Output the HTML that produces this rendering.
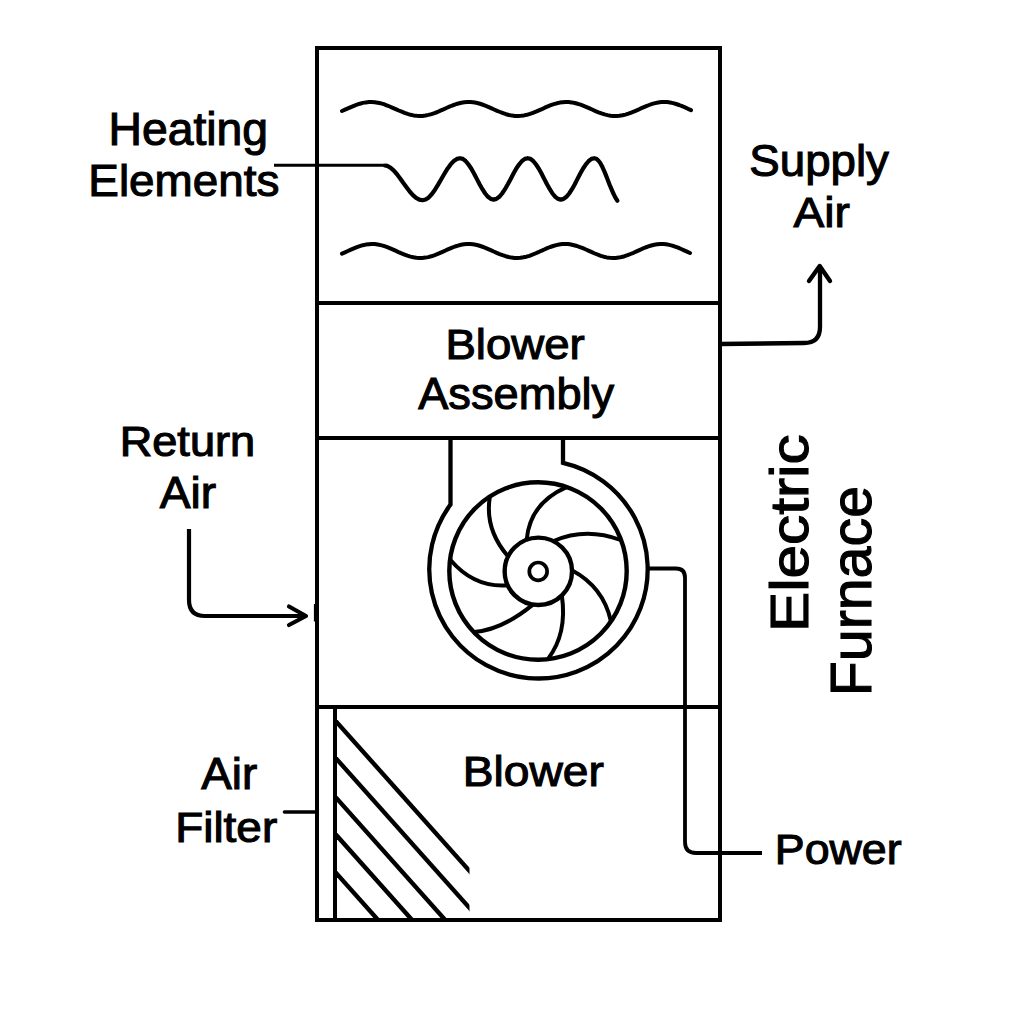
<!DOCTYPE html>
<html><head><meta charset="utf-8"><title>Electric Furnace</title>
<style>
html,body{margin:0;padding:0;background:#fff;}
svg{display:block;}
text{font-family:"Liberation Sans",sans-serif;fill:#000;stroke:#000;stroke-width:1.1;}
</style></head>
<body>
<svg width="1024" height="1024" viewBox="0 0 1024 1024">
<rect x="0" y="0" width="1024" height="1024" fill="#fff"/>
<g fill="none" stroke="#000" stroke-linecap="butt" stroke-linejoin="miter">
<rect x="317" y="48" width="403" height="872" stroke-width="4"/>
<line x1="315" y1="303" x2="722" y2="303" stroke-width="4"/>
<line x1="315" y1="438" x2="722" y2="438" stroke-width="4"/>
<line x1="315" y1="707" x2="722" y2="707" stroke-width="4"/>
<line x1="335" y1="707" x2="335" y2="920" stroke-width="4"/>
</g>
<g fill="none" stroke="#000" stroke-linecap="round" stroke-linejoin="round">
<path d="M342.0,111.0 L345.0,109.7 L348.0,108.4 L350.9,107.1 L353.9,105.8 L356.9,104.7 L359.9,103.7 L362.9,102.9 L365.9,102.4 L368.8,102.1 L371.8,102.0 L374.8,102.2 L377.8,102.7 L380.8,103.3 L383.8,104.2 L386.7,105.3 L389.7,106.5 L392.7,107.8 L395.7,109.1 L398.7,110.5 L401.7,111.7 L404.6,112.9 L407.6,113.9 L410.6,114.8 L413.6,115.4 L416.6,115.8 L419.6,116.0 L422.5,115.9 L425.5,115.5 L428.5,114.9 L431.5,114.1 L434.5,113.1 L437.5,112.0 L440.4,110.7 L443.4,109.4 L446.4,108.0 L449.4,106.7 L452.4,105.5 L455.4,104.4 L458.3,103.5 L461.3,102.8 L464.3,102.3 L467.3,102.0 L470.3,102.0 L473.2,102.3 L476.2,102.8 L479.2,103.5 L482.2,104.5 L485.2,105.6 L488.2,106.8 L491.1,108.1 L494.1,109.5 L497.1,110.8 L500.1,112.0 L503.1,113.2 L506.1,114.2 L509.0,115.0 L512.0,115.6 L515.0,115.9 L518.0,116.0 L521.0,115.8 L524.0,115.4 L526.9,114.8 L529.9,113.9 L532.9,112.9 L535.9,111.7 L538.9,110.4 L541.9,109.1 L544.8,107.7 L547.8,106.4 L550.8,105.2 L553.8,104.2 L556.8,103.3 L559.8,102.6 L562.7,102.2 L565.7,102.0 L568.7,102.1 L571.7,102.4 L574.7,103.0 L577.6,103.8 L580.6,104.7 L583.6,105.9 L586.6,107.1 L589.6,108.4 L592.6,109.8 L595.5,111.1 L598.5,112.3 L601.5,113.4 L604.5,114.4 L607.5,115.1 L610.5,115.7 L613.4,116.0 L616.4,116.0 L619.4,115.8 L622.4,115.3 L625.4,114.6 L628.4,113.7 L631.3,112.6 L634.3,111.4 L637.3,110.1 L640.3,108.7 L643.3,107.4 L646.3,106.1 L649.2,105.0 L652.2,103.9 L655.2,103.1 L658.2,102.5 L661.2,102.1 L664.2,102.0 L667.1,102.1 L670.1,102.5 L673.1,103.1 L676.1,104.0 L679.1,105.0 L682.1,106.2 L685.0,107.4 L688.0,108.8 L691.0,110.1" stroke-width="4"/>
<path d="M342.0,253.6 L345.0,252.3 L347.9,251.0 L350.9,249.6 L353.9,248.3 L356.9,247.1 L359.8,246.1 L362.8,245.2 L365.8,244.6 L368.8,244.2 L371.7,244.0 L374.7,244.1 L377.7,244.5 L380.7,245.1 L383.6,245.9 L386.6,246.9 L389.6,248.1 L392.6,249.4 L395.5,250.7 L398.5,252.1 L401.5,253.4 L404.5,254.6 L407.4,255.7 L410.4,256.6 L413.4,257.3 L416.4,257.8 L419.3,258.0 L422.3,257.9 L425.3,257.6 L428.3,257.1 L431.2,256.3 L434.2,255.3 L437.2,254.2 L440.2,252.9 L443.1,251.6 L446.1,250.2 L449.1,248.9 L452.1,247.6 L455.0,246.5 L458.0,245.6 L461.0,244.8 L463.9,244.3 L466.9,244.0 L469.9,244.0 L472.9,244.3 L475.8,244.8 L478.8,245.5 L481.8,246.5 L484.8,247.6 L487.7,248.8 L490.7,250.1 L493.7,251.5 L496.7,252.8 L499.6,254.1 L502.6,255.2 L505.6,256.2 L508.6,257.0 L511.5,257.6 L514.5,257.9 L517.5,258.0 L520.5,257.8 L523.4,257.3 L526.4,256.7 L529.4,255.8 L532.4,254.7 L535.3,253.5 L538.3,252.2 L541.3,250.8 L544.3,249.5 L547.2,248.2 L550.2,247.0 L553.2,246.0 L556.2,245.1 L559.1,244.5 L562.1,244.1 L565.1,244.0 L568.1,244.1 L571.0,244.5 L574.0,245.2 L577.0,246.0 L579.9,247.1 L582.9,248.2 L585.9,249.5 L588.9,250.9 L591.8,252.2 L594.8,253.5 L597.8,254.7 L600.8,255.8 L603.7,256.7 L606.7,257.4 L609.7,257.8 L612.7,258.0 L615.6,257.9 L618.6,257.6 L621.6,257.0 L624.6,256.2 L627.5,255.2 L630.5,254.0 L633.5,252.8 L636.5,251.4 L639.4,250.1 L642.4,248.7 L645.4,247.5 L648.4,246.4 L651.3,245.5 L654.3,244.8 L657.3,244.3 L660.3,244.0 L663.2,244.0 L666.2,244.3 L669.2,244.9 L672.2,245.6 L675.1,246.6 L678.1,247.7 L681.1,249.0 L684.1,250.3 L687.0,251.6 L690.0,253.0" stroke-width="4"/>
<path d="M385.0,165.5 L387.2,165.9 L390.4,167.6 L393.6,170.4 L396.8,174.0 L400.0,178.2 L403.2,182.8 L406.5,187.3 L409.7,191.5 L412.9,195.1 L416.1,197.9 L419.3,199.6 L422.5,200.2 L425.6,199.5 L428.8,197.4 L431.9,194.0 L435.0,189.7 L438.1,184.6 L441.2,179.2 L444.4,173.8 L447.5,168.7 L450.6,164.4 L453.8,161.0 L456.9,158.9 L460.0,158.2 L462.8,158.9 L465.6,161.0 L468.4,164.3 L471.2,168.5 L474.0,173.5 L476.8,178.9 L479.6,184.3 L482.4,189.2 L485.2,193.5 L488.0,196.8 L490.8,198.9 L493.6,199.6 L496.4,198.9 L499.3,196.8 L502.1,193.5 L505.0,189.2 L507.8,184.3 L510.7,178.9 L513.5,173.5 L516.3,168.5 L519.2,164.3 L522.0,161.0 L524.9,158.9 L527.7,158.2 L530.5,158.9 L533.2,161.0 L536.0,164.3 L538.7,168.5 L541.5,173.5 L544.2,178.9 L547.0,184.3 L549.8,189.2 L552.5,193.5 L555.3,196.8 L558.0,198.9 L560.8,199.6 L563.6,198.9 L566.4,196.8 L569.2,193.5 L572.0,189.2 L574.8,184.3 L577.5,178.9 L580.3,173.5 L583.1,168.5 L585.9,164.3 L588.7,161.0 L591.5,158.9 L594.3,158.2 L596.2,158.7 L598.1,160.3 L600.1,162.8 L602.0,166.2 L603.9,170.3 L605.8,174.9 L607.7,179.7 L609.6,184.7 L611.6,189.4 L613.5,193.8 L615.4,197.6 L617.3,200.7" stroke-width="4.2"/>
<path d="M274,165.3 L384,165.3" stroke-width="3" stroke-linecap="butt"/>
<!-- supply arrow -->
<path d="M720,344 L804,343 Q820,343 820,327 L820,267" stroke-width="4.3"/>
<path d="M809,281 L819.7,266 L830,281" stroke-width="4.4"/>
<!-- return arrow -->
<path d="M189,529 L189,600 Q189,616 205,616 L305,616" stroke-width="4.2" stroke-linecap="butt"/>
<path d="M289,606.5 L306,616 L289,625" stroke-width="4.2"/>
<rect x="313.9" y="604" width="1.5" height="17.5" fill="#000" stroke="none"/>
<!-- power -->
<path d="M647,568.5 L676,568.5 Q685,568.5 685,577.5 L685,842 Q685,853 696,853 L762,853" stroke-width="3.8" stroke-linecap="butt"/>
<!-- filter lead -->
<line x1="284.5" y1="812" x2="317" y2="812" stroke-width="3.6"/>
<!-- fan -->
<path d="M450.5,440 L450.5,504.6 A109.2,109.2 0 1 0 563,462.9 L563,440" stroke-width="4.3" stroke-linejoin="miter"/>
<circle cx="538" cy="571" r="88.7" stroke-width="4.4"/>
<circle cx="538.35" cy="571.35" r="33.7" stroke-width="4.4"/>
<circle cx="538.2" cy="571.4" r="8.9" stroke-width="3.7"/>
<path d="M489.8,497.1 Q484.6,529.2 507.9,556.2" stroke-width="4"/>
<path d="M566.0,487.3 Q530.1,503.2 526.7,539.4" stroke-width="4"/>
<path d="M553.6,541.0 Q585.6,526.9 620.6,540.0" stroke-width="4"/>
<path d="M572.3,570.6 Q603.1,587.1 610.8,620.7" stroke-width="4"/>
<path d="M561.9,595.9 Q567.3,633.6 548.2,658.6" stroke-width="4"/>
<path d="M532.6,604.9 Q501.3,630.2 474.2,631.9" stroke-width="4"/>
<path d="M450.5,560.0 Q474.3,587.8 507.3,585.3" stroke-width="4"/>
</g>
<defs><clipPath id="fc"><rect x="337" y="709" width="132.5" height="209"/></clipPath></defs>
<g clip-path="url(#fc)" stroke="#000" stroke-width="4.4" fill="none">
<line x1="327" y1="711.3" x2="537" y2="946.5"/>
<line x1="327" y1="748.3" x2="537" y2="983.5"/>
<line x1="327" y1="787.6" x2="537" y2="1022.8"/>
<line x1="327" y1="824.7" x2="537" y2="1059.9"/>
<line x1="327" y1="862.8" x2="537" y2="1098.0"/>

</g>
<g>
<text x="108.50" y="144.90" font-size="45.59" textLength="159.60" lengthAdjust="spacingAndGlyphs">Heating</text>
<text x="88.30" y="195.50" font-size="44.64" textLength="191.20" lengthAdjust="spacingAndGlyphs">Elements</text>
<text x="749.30" y="176.40" font-size="44.96" textLength="139.60" lengthAdjust="spacingAndGlyphs">Supply</text>
<text x="793.60" y="226.80" font-size="43.22" textLength="56.40" lengthAdjust="spacingAndGlyphs">Air</text>
<text x="445.40" y="358.90" font-size="42.89" textLength="139.40" lengthAdjust="spacingAndGlyphs">Blower</text>
<text x="418.20" y="409.30" font-size="44.92" textLength="196.00" lengthAdjust="spacingAndGlyphs">Assembly</text>
<text x="119.70" y="456.10" font-size="41.68" textLength="135.40" lengthAdjust="spacingAndGlyphs">Return</text>
<text x="159.70" y="508.20" font-size="44.61" textLength="56.40" lengthAdjust="spacingAndGlyphs">Air</text>
<text x="201.20" y="789.40" font-size="45.05" textLength="56.00" lengthAdjust="spacingAndGlyphs">Air</text>
<text x="175.20" y="842.20" font-size="42.89" textLength="102.00" lengthAdjust="spacingAndGlyphs">Filter</text>
<text x="462.80" y="785.50" font-size="42.89" textLength="141.00" lengthAdjust="spacingAndGlyphs">Blower</text>
<text x="774.80" y="863.65" font-size="42.89" textLength="126.80" lengthAdjust="spacingAndGlyphs">Power</text>
<text transform="translate(807.80,632.10) rotate(-90)" x="0.00" y="0" font-size="54.56" textLength="197.80" lengthAdjust="spacingAndGlyphs">Electric</text>
<text transform="translate(870.90,696.20) rotate(-90)" x="0.00" y="0" font-size="57.14" textLength="210.20" lengthAdjust="spacingAndGlyphs">Furnace</text>
</g>
</svg>
</body></html>
